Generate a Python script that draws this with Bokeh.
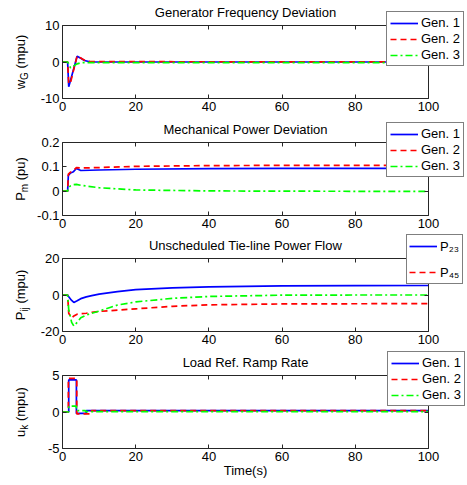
import math
from bokeh.plotting import figure
from bokeh.models import Range1d, FixedTicker, LinearAxis, Legend, LegendItem, Label
from bokeh.layouts import column
from bokeh.embed import file_html
from bokeh.resources import INLINE

FONT = "Liberation Sans"

# ---------------- data ----------------
x_ticks = [0, 20, 40, 60, 80, 100]
x_tick_labels = ["0", "20", "40", "60", "80", "100"]

titles = ["Generator Frequency Deviation", "Mechanical Power Deviation",
          "Unscheduled Tie-line Power Flow", "Load Ref. Ramp Rate"]
legend_gen = ["Gen. 1", "Gen. 2", "Gen. 3"]
legend_tie = ["P\u2082\u2083", "P\u2084\u2085"]

# Panel 1: generator frequency deviation (mpu)
t_w = [0, 1.4, 1.7, 2.2, 4.0, 5.0, 6.0, 7.5, 100]
w_gen1 = [0, 0, -6.8, -5.0, 1.6, 1.0, 0.4, 0.05, 0]
w_gen2 = [0, 0, -6.0, -5.6, 1.7, 1.1, 0.5, 0.1, 0]
w_gen3 = [0, 0, -0.5, -1.6, -0.5, -0.2, -0.15, -0.15, -0.15]
w_ticks = [-10, 0, 10]
w_tick_labels = ["-10", "0", "10"]

# Panel 2: mechanical power deviation (pu)
t_pm = [0, 1.4, 1.6, 2.2, 3.0, 3.8, 5.0, 10, 20, 40, 60, 100]
pm_gen1 = [0, 0, 0.065, 0.075, 0.080, 0.093, 0.085, 0.087, 0.090, 0.093, 0.094, 0.094]
pm_gen2 = [0, 0, 0.070, 0.078, 0.085, 0.097, 0.095, 0.097, 0.102, 0.105, 0.106, 0.106]
pm_gen3 = [0, 0, 0.015, 0.022, 0.027, 0.028, 0.024, 0.014, 0.005, 0.001, 0.0, -0.001]
pm_ticks = [-0.1, 0, 0.1, 0.2]
pm_tick_labels = ["-0.1", "0", "0.1", "0.2"]

# Panel 3: unscheduled tie-line power flow (mpu)
t_tie = [0, 1.4, 1.7, 2.5, 3.1, 4.0, 5.0, 6.5, 8, 10, 15, 20, 30, 40, 60, 80, 100]
p23 = [0, 0, -1.0, -3.0, -4.1, -3.2, -2.0, -1.0, -0.3, 0.5, 1.8, 2.9, 3.9, 4.5, 5.0, 5.1, 5.2]
p45 = [0, 0, -10, -12.5, -11.5, -10.5, -10.2, -10.0, -9.5, -9.0, -8.3, -7.6, -6.2, -5.4, -4.9, -4.8, -4.7]
p_other = [0, 0, -8, -15, -17, -15, -12.5, -11, -10, -8.8, -5.5, -3.8, -1.8, -0.8, -0.1, 0, 0]
tie_ticks = [-20, 0, 20]
tie_tick_labels = ["-20", "0", "20"]

# Panel 4: load reference ramp rate (mpu), step data
t_u1 = [0, 1.7, 3.8, 6.5, 100]
u_gen1 = [0, 4.4, -0.2, 0.2, 0.2]
t_u2 = [0, 1.6, 3.9, 7.9, 100]
u_gen2 = [0, 4.6, -0.25, 0.2, 0.2]
t_u3 = [0, 1.7, 3.8, 6.3, 100]
u_gen3 = [0, 0.8, 0.2, 0.05, 0.05]
u_ticks = [-5, 0, 5]
u_tick_labels = ["-5", "0", "5"]

# ---------------- layout / styling ----------------
FIG_W = 467
FRAME_L = 62
FRAME_W = 366
FRAME_H = 73
AXC = "#262626"
BLUE, RED, GREEN = "#0000ff", "#ff0000", "#00ff00"
LW = 1.7
PPU_X = FRAME_W / 100.0

EM = {"w": .722, "G": .778, " ": .278, "(": .333, "m": .833, "p": .556, "u": .556,
      ")": .333, "P": .667, "i": .222, "j": .222, "k": .5}


def text_w(s, size):
    return sum(EM.get(c, .556) for c in s) * size


def style_axis(ax, ticks, labels):
    ax.ticker = FixedTicker(ticks=ticks)
    ax.major_label_overrides = {t: l for t, l in zip(ticks, labels)}
    ax.major_tick_in = 4
    ax.major_tick_out = 0
    ax.minor_tick_in = 0
    ax.minor_tick_out = 0
    ax.major_label_text_font = FONT
    ax.major_label_text_font_size = "13px"
    ax.major_label_text_color = "black"
    ax.major_label_standoff = 3
    ax.axis_line_color = AXC
    ax.axis_line_width = 1
    ax.major_tick_line_color = AXC


def make_panel(title, y0, y1, yt, ytl, height, top):
    bb = height - top - FRAME_H
    upp = (y1 - y0) / FRAME_H
    xr = Range1d(-FRAME_L / PPU_X, 100 + (FIG_W - FRAME_L - FRAME_W) / PPU_X)
    yr = Range1d(y0 - bb * upp, y1 + top * upp)
    p = figure(width=FIG_W, height=height, x_range=xr, y_range=yr,
               output_backend="svg", toolbar_location=None,
               x_axis_location=None, y_axis_location=None, min_border=0)
    p.xgrid.visible = False
    p.ygrid.visible = False
    p.outline_line_color = None
    p.background_fill_color = "white"
    p.border_fill_color = "white"

    bottom = LinearAxis(fixed_location=y0, bounds=(0, 100))
    style_axis(bottom, x_ticks, x_tick_labels)
    left = LinearAxis(fixed_location=0, bounds=(y0, y1))
    style_axis(left, yt, ytl)
    topax = LinearAxis(fixed_location=y1, bounds=(0, 100))
    style_axis(topax, x_ticks, [""] * len(x_ticks))
    right = LinearAxis(fixed_location=100, bounds=(y0, y1))
    style_axis(right, yt, [""] * len(yt))
    p.add_layout(bottom, "below")
    p.add_layout(left, "left")
    p.add_layout(topax, "above")
    p.add_layout(right, "right")

    p.add_layout(Label(x=FRAME_L + FRAME_W / 2, y=bb + FRAME_H + 13.5,
                       x_units="screen", y_units="screen",
                       text=title, text_align="center", text_baseline="middle",
                       text_font=FONT, text_font_size="13px", text_color="black"))
    return p, bb


def add_ylabel(p, bb, main, sub, rest):
    gap = 3.6
    parts = [(main, 13, 19.5, 0), (sub, 10, 23.5, gap), (rest, 13, 19.5, 0)]
    total = sum(text_w(s, sz) + g for s, sz, _, g in parts)
    y = bb + FRAME_H / 2 - total / 2
    for s, sz, xc, g in parts:
        p.add_layout(Label(x=xc, y=y, x_units="screen", y_units="screen",
                           text=s, angle=math.pi / 2, text_align="left",
                           text_baseline="middle", text_font=FONT,
                           text_font_size=f"{sz}px", text_color="black"))
        y += text_w(s, sz) + g


def add_legend(p, labels, renderers, loc, spacing, lh, pad):
    items = [LegendItem(label=l, renderers=[r]) for l, r in zip(labels, renderers)]
    leg = Legend(items=items, location=loc, border_line_color="black", border_line_width=1,
                 background_fill_color="white", background_fill_alpha=1,
                 padding=pad, spacing=spacing, margin=0, glyph_width=28, glyph_height=lh,
                 label_height=lh, label_standoff=3, label_text_font=FONT,
                 label_text_font_size="13px", label_text_color="black")
    p.add_layout(leg)


# ---------------- panel 1 ----------------
p1, bb1 = make_panel(titles[0], -10, 10, w_ticks, w_tick_labels, 120, 25)
r11 = p1.line(t_w, w_gen1, line_color=BLUE, line_width=LW)
r12 = p1.line(t_w, w_gen2, line_color=RED, line_width=LW, line_dash="6 4")
r13 = p1.line(t_w, w_gen3, line_color=GREEN, line_width=LW, line_dash="7 3 2 3")
add_ylabel(p1, bb1, "w", "G", "(mpu)")
add_legend(p1, legend_gen, [r11, r12, r13], (386, 54), 1, 14, 3)

# ---------------- panel 2 ----------------
p2, bb2 = make_panel(titles[1], -0.1, 0.2, pm_ticks, pm_tick_labels, 114, 22)
r21 = p2.line(t_pm, pm_gen1, line_color=BLUE, line_width=LW)
r22 = p2.line(t_pm, pm_gen2, line_color=RED, line_width=LW, line_dash="6 4")
r23 = p2.line(t_pm, pm_gen3, line_color=GREEN, line_width=LW, line_dash="7 3 2 3")
add_ylabel(p2, bb2, "P", "m", "(pu)")
add_legend(p2, legend_gen, [r21, r22, r23], (386, 57), 1, 14, 3)

# ---------------- panel 3 ----------------
p3, bb3 = make_panel(titles[2], -20, 20, tie_ticks, tie_tick_labels, 115, 24)
r31 = p3.line(t_tie, p23, line_color=BLUE, line_width=LW)
r32 = p3.line(t_tie, p45, line_color=RED, line_width=LW, line_dash="6 4")
r33 = p3.line(t_tie, p_other, line_color=GREEN, line_width=LW, line_dash="7 3 2 3")
add_ylabel(p3, bb3, "P", "ij", "(mpu)")
add_legend(p3, legend_tie, [r31, r32], (406, 65), 8, 18, 2)

# ---------------- panel 4 ----------------
p4, bb4 = make_panel(titles[3], -5, 5, u_ticks, u_tick_labels, 135, 26)
r41 = p4.step(t_u1, u_gen1, mode="after", line_color=BLUE, line_width=LW)
r42 = p4.step(t_u2, u_gen2, mode="after", line_color=RED, line_width=LW, line_dash="6 4")
r43 = p4.step(t_u3, u_gen3, mode="after", line_color=GREEN, line_width=LW, line_dash="7 3 2 3")
add_ylabel(p4, bb4, "u", "k", "(mpu)")
add_legend(p4, legend_gen, [r41, r42, r43], (387, 78), 1, 14, 3)
p4.add_layout(Label(x=FRAME_L + FRAME_W / 2, y=14, x_units="screen", y_units="screen",
                    text="Time(s)", text_align="center", text_baseline="middle",
                    text_font=FONT, text_font_size="13px", text_color="black"))

layout = column(p1, p2, p3, p4, spacing=0)
open("out.html", "w").write(file_html(layout, INLINE))
